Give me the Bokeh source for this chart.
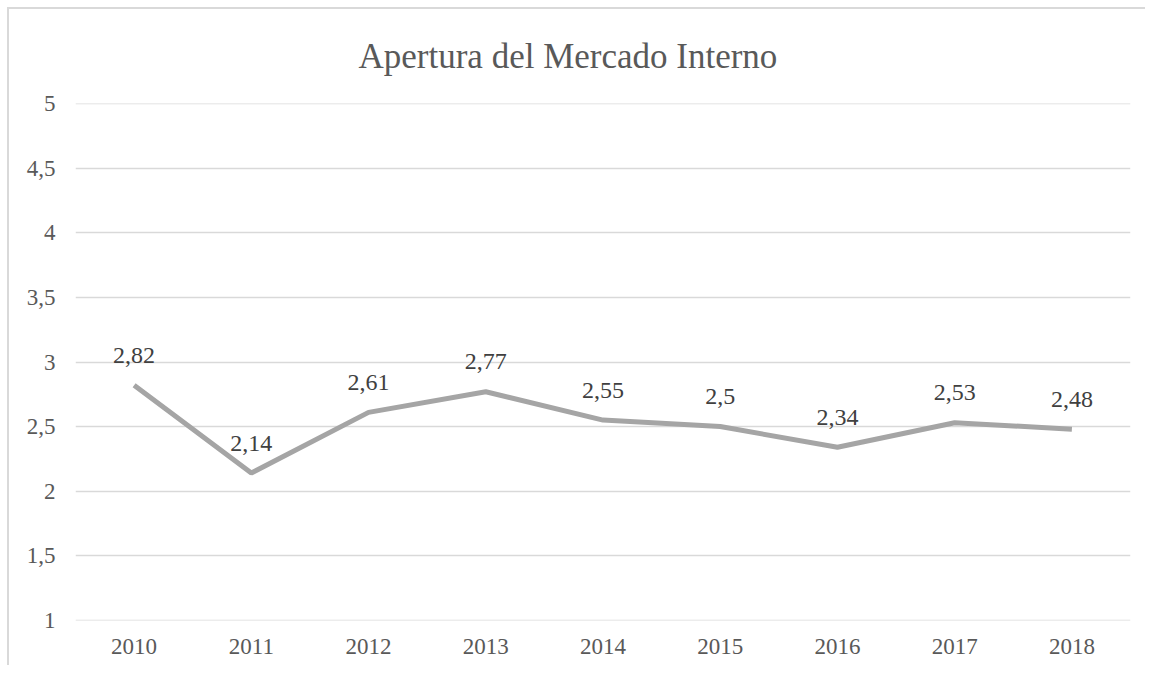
from bokeh.plotting import figure
from bokeh.models import ColumnDataSource, FixedTicker, CustomJSTickFormatter, Range1d
from bokeh.embed import file_html
from bokeh.resources import INLINE
from bokeh.core.properties import value

years = ["2010", "2011", "2012", "2013", "2014", "2015", "2016", "2017", "2018"]
values = [2.82, 2.14, 2.61, 2.77, 2.55, 2.5, 2.34, 2.53, 2.48]
y_ticks = [1, 1.5, 2, 2.5, 3, 3.5, 4, 4.5, 5]
title_text = "Apertura del Mercado Interno"

labels = [str(v).replace(".", ",") for v in values]
src = ColumnDataSource(dict(x=years, y=values, lab=labels))

FONT = "Liberation Serif"

p = figure(x_range=years, y_range=Range1d(0.998, 5.002), width=1138, height=658,
           output_backend="svg", toolbar_location=None,
           min_border_left=66, min_border_right=17, min_border_top=94, min_border_bottom=47)
p.styles = {"border-left": "2px solid #d9d9d9", "border-top": "2px solid #d9d9d9",
            "margin-left": "7px", "margin-top": "7px"}

p.title.text = title_text
p.title.align = "left"
p.title.vertical_align = "top"
p.title.text_font = FONT
p.title.text_font_size = "35px"
p.title.text_font_style = "normal"
p.title.text_color = "#595959"
p.title.standoff = 52
p.title.offset = 283

p.outline_line_color = None
p.xgrid.grid_line_color = None
p.ygrid.grid_line_color = "#d9d9d9"
p.ygrid.grid_line_width = 1.5
p.yaxis.ticker = FixedTicker(ticks=y_ticks)
p.yaxis.formatter = CustomJSTickFormatter(code="return String(tick).replace('.', ',');")

for ax in (p.xaxis[0], p.yaxis[0]):
    ax.axis_line_color = None
    ax.major_tick_line_color = None
    ax.minor_tick_line_color = None
    ax.major_label_text_font = FONT
    ax.major_label_text_font_size = "23px"
    ax.major_label_text_color = "#595959"
p.yaxis.major_label_standoff = 14
p.xaxis.major_label_standoff = 12

p.line("x", "y", source=src, line_color="#a5a5a5", line_width=5)
p.text("x", "y", text="lab", source=src, text_align="center", text_baseline="middle",
       y_offset=-30, text_font=value(FONT), text_font_size="24px", text_color="#404040")

open("out.html", "w").write(file_html(p, INLINE))
